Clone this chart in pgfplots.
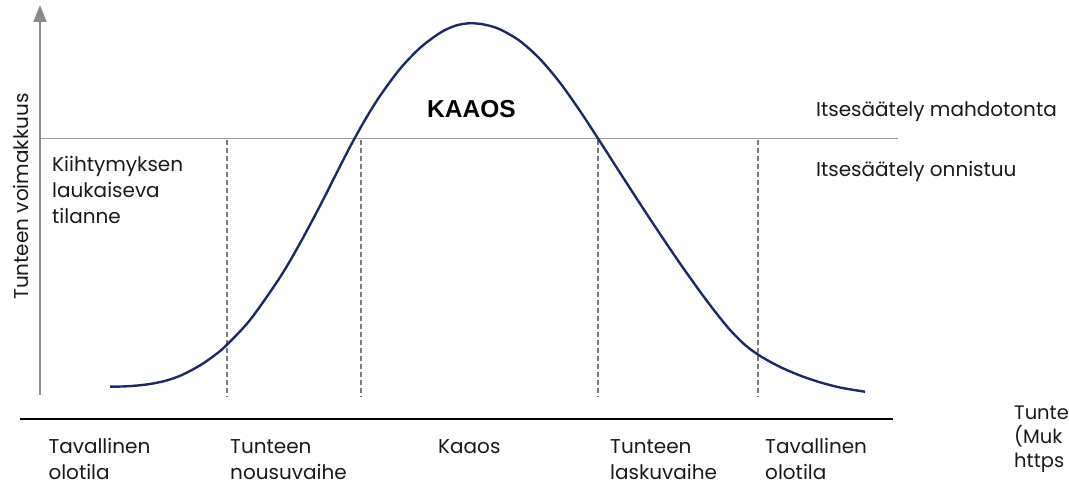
\documentclass[border=0pt]{standalone}
\usepackage{pgfplots}
\pgfplotsset{compat=1.18}
\usepackage{fontspec}
\setmainfont{Poppins}
\newfontfamily\boldfont{Liberation Sans}
\usetikzlibrary{arrows.meta}
\definecolor{curvecol}{HTML}{1C2A6B}
\definecolor{axgray}{HTML}{8A8A8A}
\definecolor{dashgray}{HTML}{7A7A7A}
\definecolor{thrgray}{HTML}{9A9EA2}
\definecolor{txt}{HTML}{1A1A1A}
\begin{document}
\begin{tikzpicture}
\path[use as bounding box, clip] (0,0) rectangle (1069pt,487pt);
\begin{axis}[
  at={(0pt,0pt)}, anchor=south west,
  scale only axis, width=1069pt, height=487pt,
  xmin=0, xmax=1069, ymin=0, ymax=487, y dir=reverse,
  hide axis, clip=false,
]
% threshold line
\addplot[thrgray, line width=1.6pt] coordinates {(40,138.5) (898,138.5)};
% dashed verticals
\addplot[dashgray, line width=1.2pt, dash pattern=on 5pt off 3pt] coordinates {(227,140) (227,397)};
\addplot[dashgray, line width=1.2pt, dash pattern=on 5pt off 3pt] coordinates {(361,140) (361,397)};
\addplot[dashgray, line width=1.2pt, dash pattern=on 5pt off 3pt] coordinates {(598,140) (598,397)};
\addplot[dashgray, line width=1.2pt, dash pattern=on 5pt off 3pt] coordinates {(758,140) (758,397)};
% bottom line
\addplot[black, line width=2pt] coordinates {(20,419) (893,419)};
% y axis arrow
\addplot[axgray, line width=2.2pt, -{Triangle[width=13pt,length=17pt]}] coordinates {(40,395) (40,5)};
% curve
\addplot[curvecol, line width=2.4pt, smooth] coordinates {
(110,386.7) (120,386.55) (133,385.9) (150,384.0) (167,380.4) (183,374.5)
(200,365.4) (212,357.2) (225,346.6) (250,320.0) (280,277.3) (300,243.3)
(320,205.8) (335,176.2) (350,146.9) (365,119.9) (380,95.9) (400,68.9)
(420,47.9) (440,32.9) (455,25.8) (470,23.2)
(485,24.7) (500,29.35) (520,41.05) (540,59.05) (560,82.75) (580,110.95)
(600,141.55) (620,172.75) (640,203.65) (660,233.95) (680,263.45) (700,291.55)
(715,311.5) (730,329.9) (745,344.9) (760,355.9) (780,366.9) (800,375.5)
(820,382.3) (840,387.5) (865,391.75)
};
% texts
\tikzset{lab/.style={anchor=base west, inner sep=0pt, text=txt, font=\fontsize{20}{24}\selectfont}}
\node[lab, rotate=90] at (axis cs:28,300) {Tunteen voimakkuus};
\node[lab] at (axis cs:52,171.7) {Kiihtymyksen};
\node[lab] at (axis cs:52,197.5) {laukaiseva};
\node[lab] at (axis cs:52,223.3) {tilanne};
\node[anchor=base west, inner sep=0pt, text=black, font=\boldfont\bfseries\fontsize{24.5}{28}\selectfont] at (axis cs:427,117.3) {KAAOS};
\node[lab] at (axis cs:816,116.7) {Itsesäätely mahdotonta};
\node[lab] at (axis cs:816,176) {Itsesäätely onnistuu};
\node[lab] at (axis cs:48.3,453.3) {Tavallinen};
\node[lab] at (axis cs:48.3,479.3) {olotila};
\node[lab] at (axis cs:230,453.3) {Tunteen};
\node[lab] at (axis cs:230,479.3) {nousuvaihe};
\node[lab] at (axis cs:438,453.3) {Kaaos};
\node[lab] at (axis cs:610,453.3) {Tunteen};
\node[lab] at (axis cs:610,479.3) {laskuvaihe};
\node[lab] at (axis cs:765,453.3) {Tavallinen};
\node[lab] at (axis cs:765,479.3) {olotila};
\tikzset{cut/.style={lab, font=\fontsize{19.5}{24}\selectfont}}
\node[cut] at (axis cs:1014,419.3) {Tunte};
\node[cut] at (axis cs:1014,443.3) {(Muk};
\node[cut] at (axis cs:1014,467.3) {https};
\end{axis}
\end{tikzpicture}
\end{document}
